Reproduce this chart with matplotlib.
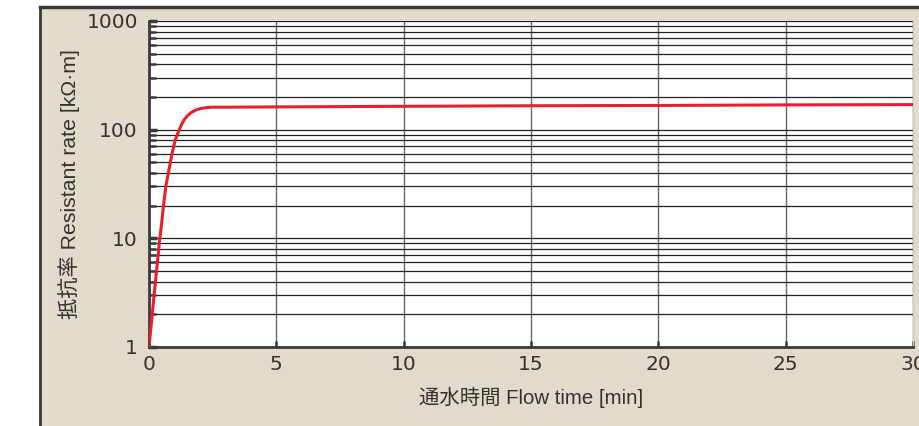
import numpy as np
import matplotlib
matplotlib.use("Agg")
import matplotlib.pyplot as plt
from matplotlib.lines import Line2D
from matplotlib.patches import Rectangle
from matplotlib.ticker import LogLocator, FixedLocator, NullFormatter

plt.rcParams['font.family'] = ['Liberation Sans', 'Noto Sans CJK JP', 'DejaVu Sans']

# flow time [min] and resistivity [kOhm*m]
flow_time = [0, 0.1, 0.2, 0.3, 0.4, 0.5, 0.57, 0.66, 0.76, 0.84, 0.9, 0.97,
             1.03, 1.11, 1.19, 1.3, 1.4, 1.52, 1.66, 1.85, 2.05, 2.3, 2.5,
             3, 5, 10, 15, 20, 25, 30]
resistivity = [1, 1.7, 3.0, 5.1, 8.8, 14, 20, 30, 40, 50, 60, 70,
               80, 90, 100, 114, 125, 135, 144, 152, 157, 160, 161,
               161, 162, 164, 166, 167, 169, 170]

x_ticks = [0, 5, 10, 15, 20, 25, 30]
x_ticklabels = ["0", "5", "10", "15", "20", "25", "30"]
y_ticks = [1, 10, 100, 1000]
y_ticklabels = ["1", "10", "100", "1000"]

xlabel = "通水時間 Flow time [min]"
ylabel = "抵抗率 Resistant rate [kΩ·m]"

W, H = 919, 426
fig = plt.figure(figsize=(W / 100, H / 100), dpi=100, facecolor="white")

beige = "#e2dbcb"
border = "#3a3a3a"
text_col = "#333333"

# beige panel with dark top/left border
fig.patches.append(Rectangle((40 / W, 0), 1.0, 1 - 7 / H, transform=fig.transFigure,
                             facecolor=beige, edgecolor="none", zorder=-5))
fig.lines.append(Line2D([40 / W, 1.0], [1 - 7 / H, 1 - 7 / H], transform=fig.transFigure,
                        color=border, lw=2.5, zorder=-4))
fig.lines.append(Line2D([40 / W, 40 / W], [0, 1 - 7 / H], transform=fig.transFigure,
                        color=border, lw=2, zorder=-4))

left, right = 149 / W, 913 / W
bottom, top = 1 - 347 / H, 1 - 21 / H
ax = fig.add_axes([left, bottom, right - left, top - bottom])
ax.set_facecolor("white")

ax.plot(flow_time, resistivity, color="#e8202a", lw=2.2, solid_capstyle="butt", zorder=5)

ax.set_yscale("log")
ax.set_xlim(0, 30)
ax.set_ylim(1, 1000)

ax.xaxis.set_major_locator(FixedLocator(x_ticks))
ax.set_xticklabels(x_ticklabels, family="DejaVu Sans")
ax.yaxis.set_major_locator(FixedLocator(y_ticks))
ax.set_yticklabels(y_ticklabels, family="DejaVu Sans")
ax.yaxis.set_minor_locator(LogLocator(base=10, subs=np.arange(2, 10)))
ax.yaxis.set_minor_formatter(NullFormatter())

ax.grid(True, axis="y", which="both", color="#222222", lw=0.9)
ax.grid(True, axis="x", which="major", color="#666666", lw=1.0)
ax.set_axisbelow(True)

ax.tick_params(axis="y", which="major", direction="in", length=6, width=2.5,
               color=border, labelsize=14.5, labelcolor=text_col, pad=8)
ax.tick_params(axis="y", which="minor", direction="in", length=5, width=1.8, color=border)
ax.tick_params(axis="x", which="major", direction="in", length=4, width=1.8,
               color=border, labelsize=14.5, labelcolor=text_col, pad=6)

for side in ("left", "bottom"):
    ax.spines[side].set_color(border)
    ax.spines[side].set_linewidth(2)
ax.spines["top"].set_visible(False)
ax.spines["right"].set_color("#cccccc")
ax.spines["right"].set_linewidth(1)

ax.set_xlabel(xlabel, fontsize=14.7, color=text_col)
ax.xaxis.set_label_coords(0.5, -0.154)
ax.xaxis.label.set_va("center")
ax.set_ylabel(ylabel, fontsize=15.3, color=text_col)
ax.yaxis.set_label_coords(-0.104, 0.5)
ax.yaxis.label.set_va("center")

fig.savefig("out.png", dpi=100, facecolor=fig.get_facecolor())
